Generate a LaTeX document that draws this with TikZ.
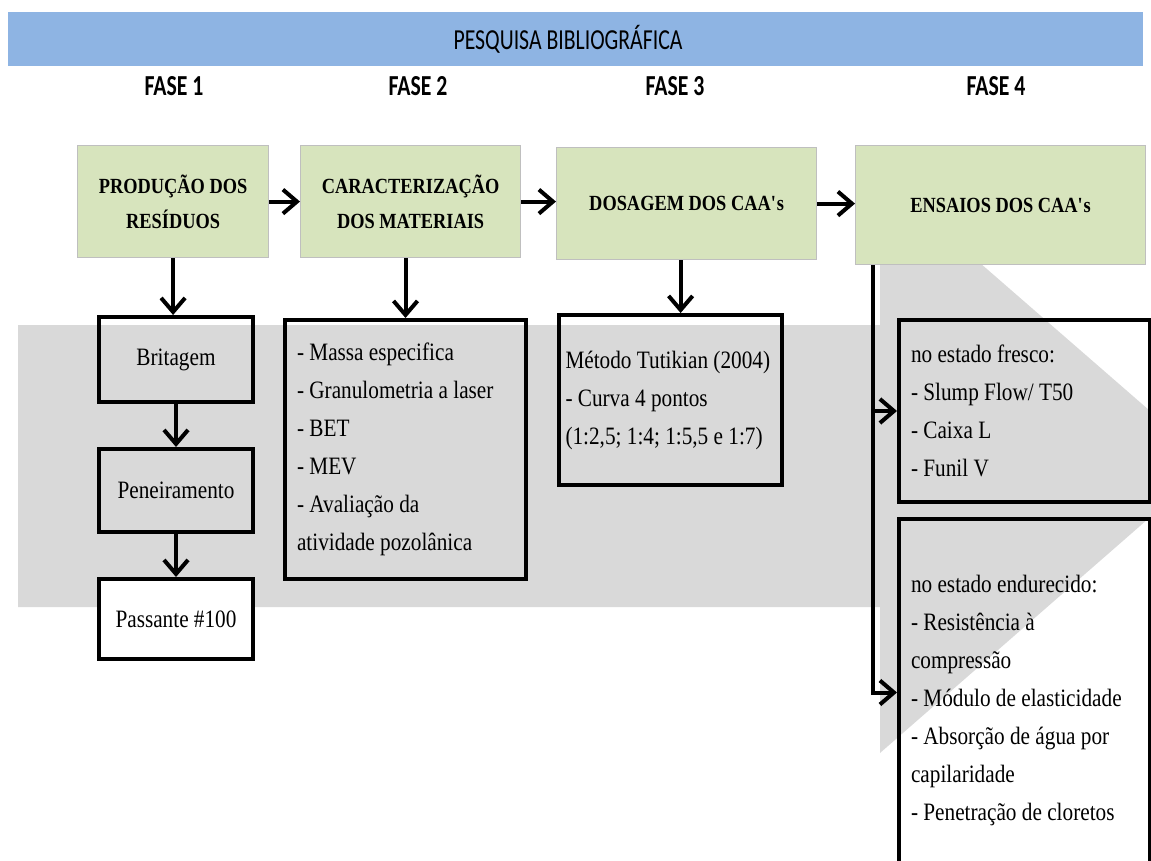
\documentclass[tikz,border=0pt]{standalone}
\usepackage{fontspec}
\usepackage{tikz}
\usetikzlibrary{arrows.meta}
\newfontfamily\boxfont[FakeStretch=0.85]{Liberation Serif}
\newfontfamily\fasefont[FakeStretch=0.75]{Carlito}
\definecolor{barblue}{HTML}{8EB4E3}
\definecolor{boxgreen}{HTML}{D7E4BD}
\definecolor{boxedge}{HTML}{BFBFBF}
\definecolor{setagrey}{HTML}{D9D9D9}

\begin{document}
\begin{tikzpicture}[x=0.5pt,y=-0.5pt,
	fase/.style={font=\fasefont\bfseries\fontsize{14.5}{16}\selectfont},
	etapa/.style={draw=boxedge,fill=boxgreen,line width=0.6pt,anchor=north west,align=center,inner sep=0pt,font=\boxfont\bfseries\fontsize{10.8}{17.5}\selectfont},
	item/.style={draw,line width=2pt,anchor=north west,align=flush left,inner xsep=6pt,inner ysep=0pt,font=\boxfont\fontsize{12.5}{19}\selectfont},
	passo/.style={draw,line width=2pt,anchor=north west,minimum width=77pt,inner sep=0pt,font=\boxfont\fontsize{12.5}{19}\selectfont},
	seta/.style={line width=2pt,-{Straight Barb[length=7pt,width=12pt]}}]
			\clip (0,0) rectangle (1151,861);
			\fill[setagrey] (18,325) -- (880,325) -- (880,176) -- (1211,464) -- (880,753) -- (880,607) -- (18,607) -- cycle;
			\fill[barblue] (8,12) rectangle (1143,66);
			\node[font=\fasefont\fontsize{14.5}{16}\selectfont] (pesquisa) at (568,39) {PESQUISA BIBLIOGRÁFICA};
			\foreach \n/\x in {1/174,2/418,3/675,4/996}
				\node[fase] (fase\n) at (\x,86) {FASE \n};
			\node[etapa,minimum width=95.5pt,minimum height=56pt] (producao) at (77,145) {PRODUÇÃO DOS\\RESÍDUOS};
			\node[etapa,minimum width=110pt,minimum height=56pt] (caracterizacao) at (300,145) {CARACTERIZAÇÃO\\DOS MATERIAIS};
			\node[etapa,minimum width=130pt,minimum height=56pt] (dosagem) at (556,147) {DOSAGEM DOS CAA\textquotesingle s};
			\node[etapa,minimum width=145pt,minimum height=59.5pt] (ensaios) at (855,145) {ENSAIOS DOS CAA\textquotesingle s};
			\node[passo,minimum height=42.5pt] (britagem) at (97,315) {Britagem};
			\node[passo,minimum height=41.5pt] (peneiramento) at (97,447) {Peneiramento};
			\node[passo,fill=white,minimum height=40pt] (passante) at (97,577) {Passante \#100};
			\node[item,text width=108.5pt,minimum height=129.5pt] (materiais) at (283,318) {- Massa especifica\\- Granulometria a laser\\- BET\\- MEV\\- Avaliação da\\atividade pozolânica};
			\node[item,inner xsep=3.25pt,text width=105pt,minimum height=85pt] (tutikian) at (557,313) {Método Tutikian (2004)\\- Curva 4 pontos\\(1:2,5; 1:4; 1:5,5 e 1:7)};
			\node[item,text width=113.5pt,minimum height=91pt] (fresco) at (897,318) {no estado fresco:\\- Slump Flow/ T50\\- Caixa L\\- Funil V};
			\node[item,text width=113.5pt,minimum height=181.5pt] (endurecido) at (897,517) {no estado endurecido:\\- Resistência à\\compressão\\- Módulo de elasticidade\\- Absorção de água por\\capilaridade\\- Penetração de cloretos};
			\draw[seta] (producao) -- (caracterizacao);
			\draw[seta] (caracterizacao.east) -- (caracterizacao.east -| dosagem.west);
			\draw[seta] (dosagem.east) -- (dosagem.east -| ensaios.west);
			\draw[seta] (producao.south) -- (producao.south |- britagem.north);
			\draw[seta] (britagem) -- (peneiramento);
			\draw[seta] (peneiramento) -- (passante);
			\draw[seta] (materiais.north |- caracterizacao.south) -- (materiais.north);
			\draw[seta] ([xshift=-3pt]dosagem.south) -- ([xshift=-3pt]dosagem.south |- tutikian.north);
			\coordinate (ramo) at ([xshift=9pt]ensaios.south west);
			\draw[seta] (ramo) |- (fresco.west);
			\draw[seta] (ramo) |- ([yshift=4pt]endurecido.west);
		\end{tikzpicture}
\end{document}
